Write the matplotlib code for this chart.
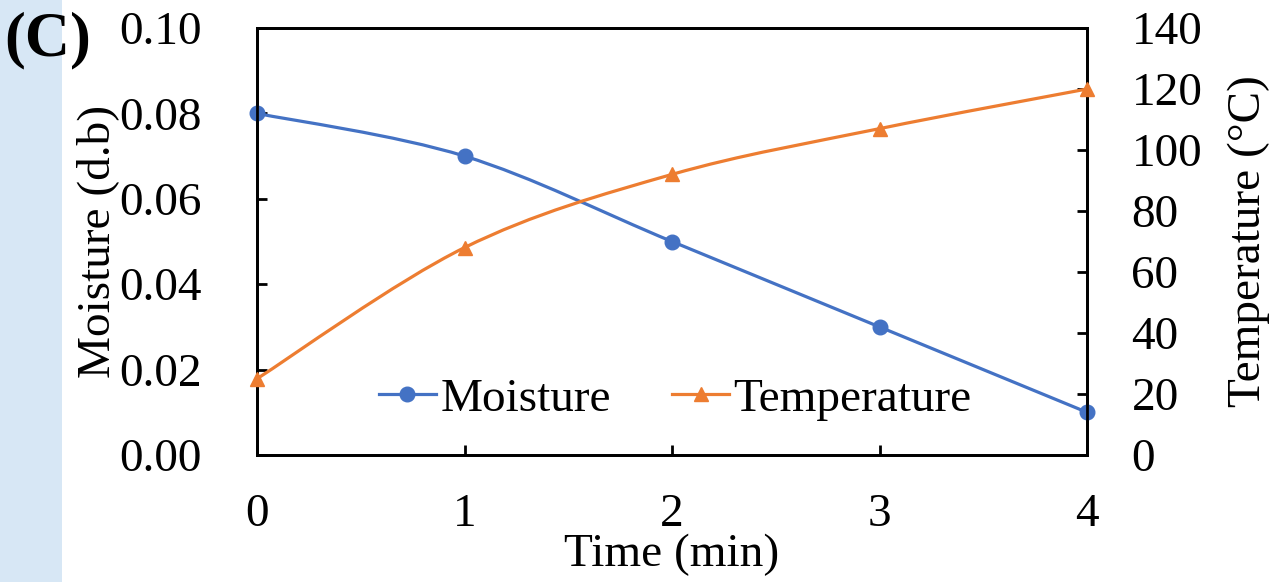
import matplotlib
matplotlib.use("Agg")
import matplotlib.pyplot as plt
from matplotlib.path import Path
from matplotlib.patches import PathPatch, Rectangle
from matplotlib.lines import Line2D
import numpy as np

time = [0, 1, 2, 3, 4]
moisture = [0.08, 0.07, 0.05, 0.03, 0.01]
temperature = [25, 68, 92, 107, 120]

blue = "#4472C4"
orange = "#ED7D31"

plt.rcParams['font.family'] = ['Liberation Serif', 'DejaVu Serif']
FS = 34

fig = plt.figure(figsize=(12.71, 5.82), dpi=100)
fig.patches.append(Rectangle((0, 0), 62 / 1271, 1, transform=fig.transFigure,
                             facecolor="#d7e7f5", edgecolor="none", zorder=-10))
ax = fig.add_axes([257 / 1271, 1 - 455 / 582, 830 / 1271, 427 / 582])
ax2 = ax.twinx()


def smooth_path(xs, ys):
    xs = np.asarray(xs, float)
    ys = np.asarray(ys, float)
    n = len(xs)
    verts = [(xs[0], ys[0])]
    codes = [Path.MOVETO]
    for i in range(n - 1):
        p0 = np.array([xs[max(i - 1, 0)], ys[max(i - 1, 0)]])
        p1 = np.array([xs[i], ys[i]])
        p2 = np.array([xs[i + 1], ys[i + 1]])
        p3 = np.array([xs[min(i + 2, n - 1)], ys[min(i + 2, n - 1)]])
        c1 = p1 + (p2 - p0) / 6
        c2 = p2 - (p3 - p1) / 6
        verts += [tuple(c1), tuple(c2), tuple(p2)]
        codes += [Path.CURVE4] * 3
    return Path(verts, codes)


ax.add_patch(PathPatch(smooth_path(time, moisture), facecolor="none",
                       edgecolor=blue, lw=2.3, zorder=3, clip_on=False))
ax.plot(time, moisture, linestyle="none", marker="o", ms=10.5, color=blue,
        zorder=4, clip_on=False)
ax2.add_patch(PathPatch(smooth_path(time, temperature), facecolor="none",
                        edgecolor=orange, lw=2.3, zorder=3, clip_on=False))
ax2.plot(time, temperature, linestyle="none", marker="^", ms=10.5, color=orange,
         zorder=4, clip_on=False)

ax.set_xlim(0, 4)
ax.set_ylim(0, 0.10)
ax2.set_ylim(0, 140)
ax.set_xticks([0, 1, 2, 3, 4])
ax.set_yticks(np.arange(0, 0.101, 0.02))
ax.set_yticklabels([f"{v:.2f}" for v in np.arange(0, 0.101, 0.02)])
ax2.set_yticks(range(0, 141, 20))

for a in (ax, ax2):
    for s in a.spines.values():
        s.set_linewidth(2)
    a.tick_params(direction="in", length=7, width=2, labelsize=FS)
ax.tick_params(axis="x", pad=28)
ax.tick_params(axis="y", pad=40)
ax2.tick_params(axis="y", pad=32)

ax.set_xlabel("Time (min)", fontsize=FS, labelpad=-2)
ax.set_ylabel("Moisture (d.b)", fontsize=FS, labelpad=0)
ax2.set_ylabel("Temperature (°C)", fontsize=FS, labelpad=18)

handles = [Line2D([], [], color=blue, lw=2.3, marker="o", ms=10.5),
           Line2D([], [], color=orange, lw=2.3, marker="^", ms=10.5)]
ax2.legend(handles, ["Moisture", "Temperature"], loc="center",
           bbox_to_anchor=(0.504, 0.13), ncol=2, frameon=False, fontsize=FS,
           handlelength=1.2, handletextpad=0.1, columnspacing=1.3,
           borderpad=0.1)

fig.text(4 / 1271, 1 - 40 / 582, "(C)", fontsize=45, fontweight="bold",
         va="center", ha="left")

fig.savefig("out.png", dpi=100)
